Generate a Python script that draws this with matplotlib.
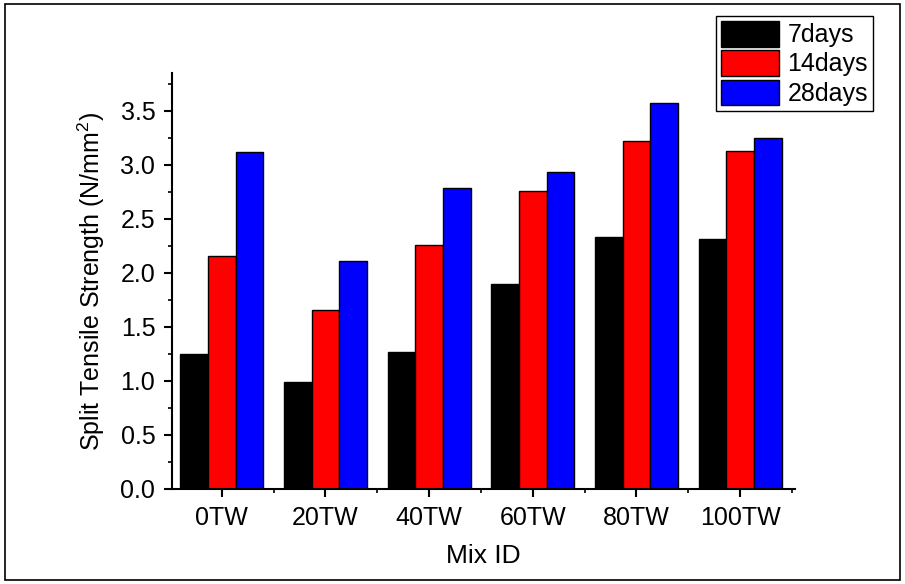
import matplotlib
matplotlib.use("Agg")
import matplotlib.pyplot as plt
import numpy as np
from matplotlib.patches import Rectangle
from matplotlib.ticker import MultipleLocator, FixedLocator

plt.rcParams['font.family'] = ['Liberation Sans', 'DejaVu Sans']
plt.rcParams['mathtext.fontset'] = 'custom'
plt.rcParams['mathtext.rm'] = 'Liberation Sans'
plt.rcParams['mathtext.it'] = 'Liberation Sans'

categories = ['0TW', '20TW', '40TW', '60TW', '80TW', '100TW']
series_names = ['7days', '14days', '28days']
days7 = [1.25, 0.99, 1.27, 1.90, 2.33, 2.31]
days14 = [2.16, 1.66, 2.26, 2.76, 3.22, 3.13]
days28 = [3.12, 2.11, 2.79, 2.93, 3.57, 3.25]
colors = ['#000000', '#ff0000', '#0000ff']

fig = plt.figure(figsize=(9.05, 5.84), dpi=100)
ax = fig.add_axes([172/905, 1 - 489/584, (795-172)/905, (489-73)/584])

x = np.arange(len(categories))
w = 0.8 / 3
for i, (vals, name, c) in enumerate(zip([days7, days14, days28], series_names, colors)):
    ax.bar(x + (i - 1) * w, vals, width=w, color=c, edgecolor='black', linewidth=1.0, label=name)

ax.set_xlim(-0.48, 5.53)
ax.set_ylim(0, 3.85)
ax.set_xticks(x)
ax.set_xticklabels(categories)
ax.xaxis.set_minor_locator(FixedLocator(np.arange(-0.5, 5.6, 1.0)))
ax.yaxis.set_major_locator(MultipleLocator(0.5))
ax.yaxis.set_minor_locator(MultipleLocator(0.25))
ax.yaxis.set_major_formatter(matplotlib.ticker.FormatStrFormatter('%.1f'))

for s in ['top', 'right']:
    ax.spines[s].set_visible(False)
for s in ['left', 'bottom']:
    ax.spines[s].set_linewidth(1.5)

ax.tick_params(axis='both', which='major', direction='out', length=6, width=1.5, labelsize=18, pad=6)
ax.tick_params(axis='both', which='minor', direction='out', length=3, width=1.2)

ax.set_xlabel('Mix ID', fontsize=19, labelpad=10)
ax.set_ylabel(r'Split Tensile Strength (N/mm$^2$)', fontsize=18, labelpad=10)

leg = fig.legend(loc='upper left', bbox_to_anchor=(716/905, 1 - 16/584), fontsize=18,
                 frameon=True, fancybox=False, edgecolor='black', framealpha=1,
                 handlelength=2.3, handleheight=1.2, handletextpad=0.35,
                 labelspacing=0.12, borderpad=0.2, borderaxespad=0)
leg.get_frame().set_linewidth(1.0)

fig.patches.append(Rectangle((5/905, 4/584), 895/905, 576/584, transform=fig.transFigure,
                             fill=False, edgecolor='black', linewidth=1.2))

fig.savefig('out.png', dpi=100)
